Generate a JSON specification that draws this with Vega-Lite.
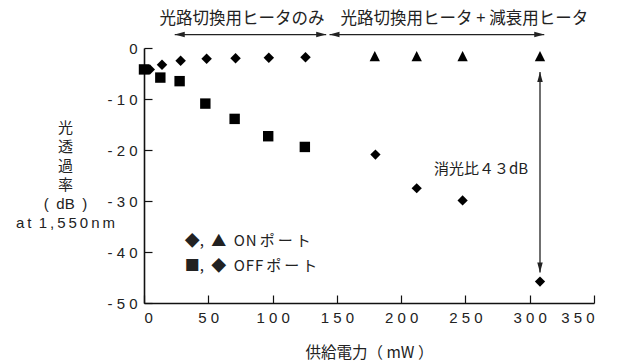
{
  "$schema": "https://vega.github.io/schema/vega-lite/v6.json",
  "width": 450,
  "height": 255,
  "autosize": {"type": "none"},
  "padding": {"left": 144, "top": 48, "right": 33, "bottom": 60},
  "config": {
    "view": {"stroke": null},
    "font": "Liberation Sans, Noto Sans CJK JP",
    "axis": {
      "grid": false,
      "domainColor": "#111",
      "domainWidth": 1.6,
      "tickColor": "#111",
      "tickWidth": 1.2,
      "tickSize": -8,
      "labelColor": "#222",
      "labelFontSize": 15,
      "labelFont": "Liberation Sans",
      "titleColor": "#222",
      "titleFontSize": 15,
      "titleFontWeight": "normal",
      "titleFont": "Liberation Sans, Noto Sans CJK JP"
    }
  },
  "resolve": {"scale": {"shape": "independent", "size": "independent"}},
  "datasets": {
    "points": [
      {"x": 4.5, "y": -4.2, "s": "ON-1"},
      {"x": 14, "y": -3.3, "s": "ON-1"},
      {"x": 28.5, "y": -2.5, "s": "ON-1"},
      {"x": 48.7, "y": -2.1, "s": "ON-1"},
      {"x": 71.2, "y": -2.0, "s": "ON-1"},
      {"x": 97.1, "y": -1.9, "s": "ON-1"},
      {"x": 125.6, "y": -1.8, "s": "ON-1"},
      {"x": 0, "y": -4.2, "s": "OFF-1"},
      {"x": 12.7, "y": -5.8, "s": "OFF-1"},
      {"x": 27.7, "y": -6.5, "s": "OFF-1"},
      {"x": 47.7, "y": -10.9, "s": "OFF-1"},
      {"x": 70.5, "y": -13.9, "s": "OFF-1"},
      {"x": 96.6, "y": -17.3, "s": "OFF-1"},
      {"x": 125.1, "y": -19.4, "s": "OFF-1"},
      {"x": 179.5, "y": -1.6, "s": "ON-2"},
      {"x": 212.1, "y": -1.6, "s": "ON-2"},
      {"x": 247.8, "y": -1.6, "s": "ON-2"},
      {"x": 308, "y": -1.6, "s": "ON-2"},
      {"x": 180, "y": -20.9, "s": "OFF-2"},
      {"x": 212.1, "y": -27.5, "s": "OFF-2"},
      {"x": 247.8, "y": -29.9, "s": "OFF-2"},
      {"x": 308, "y": -45.8, "s": "OFF-2"}
    ],
    "arrows": [
      {"x": 23.9, "x2": 141.7, "y": 2.63, "y2": 2.63},
      {"x": 144.3, "x2": 311.3, "y": 2.63, "y2": 2.63},
      {"x": 308, "x2": 308, "y": -4.7, "y2": -44}
    ],
    "heads": [
      {"x": 23.9, "y": 2.63, "d": "left"},
      {"x": 141.7, "y": 2.63, "d": "right"},
      {"x": 144.3, "y": 2.63, "d": "left"},
      {"x": 311.3, "y": 2.63, "d": "right"},
      {"x": 308, "y": -4.7, "d": "up"},
      {"x": 308, "y": -44, "d": "down"}
    ],
    "texts": [
      {"x": 76.3, "y": 5.77, "t": "光路切換用ヒータのみ", "role": "top"},
      {"x": 249.2, "y": 5.77, "t": "光路切換用ヒータ + 減衰用ヒータ", "role": "top"},
      {"x": 262.1, "y": -23.7, "t": "消光比４３dB", "role": "note"},
      {"x": 31.6, "y": -37.8, "t": "◆,\u2002▲\u2002O\u200aN\u2009ポ\u2009ー\u2009ト", "role": "legend"},
      {"x": 31.6, "y": -42.7, "t": "■,\u2002◆\u2002O\u200aF\u200aF\u2009ポ\u2009ー\u2009ト", "role": "legend"}
    ]
  },
  "encoding": {
    "x": {
      "field": "x",
      "type": "quantitative",
      "scale": {"domain": [0, 350], "nice": false},
      "axis": {
        "values": [0, 50, 100, 150, 200, 250, 300, 350],
        "labelExpr": "replace('' + datum.value, /(\\d)(?=\\d)/g, '$1 ')",
        "labelPadding": 15,
        "title": "供給電力（ mW ）",
        "titleFont": "Noto Sans CJK JP",
        "titleFontSize": 15.5,
        "titleX": 225,
        "titleY": 49,
        "titleAlign": "center",
        "titleBaseline": "middle"
      }
    },
    "y": {
      "field": "y",
      "type": "quantitative",
      "scale": {"domain": [-50, 0], "nice": false, "zero": false},
      "axis": {
        "values": [0, -10, -20, -30, -40, -50],
        "labelExpr": "datum.value == 0 ? '0' : '- ' + replace('' + abs(datum.value), /(\\d)(?=\\d)/g, '$1 ')",
        "labelPadding": 15,
        "title": ["光", "透", "過", "率", "(\u2002dB\u2002)", "a\u2009t\u2009 1\u2009,\u20095\u20095\u20090\u2009n\u2009m"],
        "titleAngle": 0,
        "titleAlign": "center",
        "titleBaseline": "top",
        "titleX": -79,
        "titleY": 72,
        "titleLineHeight": 19
      }
    }
  },
  "layer": [
    {
      "data": {"name": "points"},
      "mark": {"type": "point", "filled": true, "opacity": 1, "color": "#000"},
      "encoding": {
        "shape": {
          "field": "s",
          "type": "nominal",
          "scale": {"domain": ["ON-1", "OFF-1", "ON-2", "OFF-2"], "range": ["diamond", "square", "M0,-1L-1,1L1,1Z", "diamond"]},
          "legend": null
        },
        "size": {
          "field": "s",
          "type": "nominal",
          "scale": {"domain": ["ON-1", "OFF-1", "ON-2", "OFF-2"], "range": [110, 105, 135, 125]},
          "legend": null
        }
      }
    },
    {
      "data": {"name": "arrows"},
      "mark": {"type": "rule", "color": "#222", "strokeWidth": 1.3},
      "encoding": {
        "x2": {"field": "x2"},
        "y2": {"field": "y2"}
      }
    },
    {
      "data": {"name": "heads"},
      "mark": {"type": "point", "filled": true, "opacity": 1, "color": "#222", "size": 100},
      "encoding": {
        "shape": {
          "field": "d",
          "type": "nominal",
          "scale": {"domain": ["left", "right", "up", "down"], "range": ["M0,0L2,-0.55L2,0.55Z", "M0,0L-2,-0.55L-2,0.55Z", "M0,0L-0.55,2L0.55,2Z", "M0,0L-0.55,-2L0.55,-2Z"]},
          "legend": null
        }
      }
    },
    {
      "data": {"name": "texts"},
      "transform": [{"filter": "datum.role == 'top'"}],
      "mark": {"type": "text", "fontSize": 16.5, "align": "center", "baseline": "middle", "color": "#222", "font": "Noto Sans CJK JP"},
      "encoding": {"text": {"field": "t"}}
    },
    {
      "data": {"name": "texts"},
      "transform": [{"filter": "datum.role == 'note'"}],
      "mark": {"type": "text", "fontSize": 15, "align": "center", "baseline": "middle", "color": "#222", "font": "Noto Sans CJK JP"},
      "encoding": {"text": {"field": "t"}}
    },
    {
      "data": {"name": "texts"},
      "transform": [{"filter": "datum.role == 'legend'"}],
      "mark": {"type": "text", "fontSize": 15, "align": "left", "baseline": "middle", "color": "#222", "font": "Noto Sans CJK JP"},
      "encoding": {"text": {"field": "t"}}
    }
  ]
}
